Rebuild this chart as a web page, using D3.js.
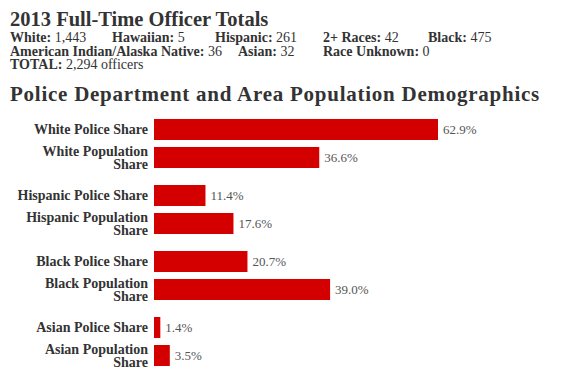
<!DOCTYPE html>
<html>
<head>
<meta charset="utf-8">
<script src="https://cdn.jsdelivr.net/npm/d3@7"></script>
<style>
  body { margin: 0; background: #fff; }
  svg { font-family: Georgia, "Liberation Serif", serif; }
</style>
</head>
<body>
<svg id="chart"></svg>
<script>
// officer totals
const groupNames = ["White", "Hawaiian", "Hispanic", "2+ Races", "Black",
  "American Indian/Alaska Native", "Asian", "Race Unknown"];
const groupCounts = ["1,443", "5", "261", "42", "475", "36", "32", "0"];
const totalOfficers = "2,294";

// share bars
const categories = [
  "White Police Share", "White Population Share",
  "Hispanic Police Share", "Hispanic Population Share",
  "Black Police Share", "Black Population Share",
  "Asian Police Share", "Asian Population Share"
];
const shares = [62.9, 36.6, 11.4, 17.6, 20.7, 39.0, 1.4, 3.5];

const width = 575, height = 376;
const ink = "#333";

const svg = d3.select("#chart").attr("width", width).attr("height", height);

svg.append("text")
  .attr("x", 10).attr("y", 26)
  .attr("font-size", 20.5).attr("font-weight", "bold").attr("fill", ink)
  .text("2013 Full-Time Officer Totals");

// legend-ish rows of counts
const slots = [
  [10, 42], [112, 42], [215, 42], [323, 42], [428, 42],
  [10, 56], [238, 56], [323, 56]
];
groupNames.forEach((name, i) => {
  const t = svg.append("text")
    .attr("x", slots[i][0]).attr("y", slots[i][1])
    .attr("font-size", 14).attr("fill", ink);
  t.append("tspan").attr("font-weight", "bold").text(name + ": ");
  t.append("tspan").text(groupCounts[i]);
});
const tot = svg.append("text").attr("x", 10).attr("y", 69)
  .attr("font-size", 14).attr("fill", ink);
tot.append("tspan").attr("font-weight", "bold").text("TOTAL: ");
tot.append("tspan").text(totalOfficers + " officers");

svg.append("text")
  .attr("x", 10).attr("y", 101)
  .attr("font-size", 21).attr("font-weight", "bold").attr("fill", ink)
  .attr("letter-spacing", 0.75)
  .text("Police Department and Area Population Demographics");

// bars
const x = d3.scaleLinear().domain([0, d3.max(shares)]).range([154, 438]);

// pairs sit close, groups get an extra gap
const rowTop = i => 119 + i * 28 + Math.floor(i / 2) * 10;
const barH = 21;

const rows = svg.append("g").selectAll("g")
  .data(categories.map((c, i) => ({ c, v: shares[i], i })))
  .join("g")
  .attr("transform", d => `translate(0,${rowTop(d.i)})`);

rows.append("rect")
  .attr("x", x(0))
  .attr("width", d => x(d.v) - x(0))
  .attr("height", barH)
  .attr("fill", "#d40000");

rows.append("text")
  .attr("x", d => x(d.v) + 5)
  .attr("y", barH / 2 + 4)
  .attr("font-size", 13).attr("fill", "#555")
  .text(d => d.v.toFixed(1) + "%");

rows.each(function(d) {
  const g = d3.select(this);
  const lines = d.c.includes("Population")
    ? [d.c.replace(" Share", ""), "Share"]
    : [d.c];
  const t = g.append("text")
    .attr("text-anchor", "end")
    .attr("font-size", 14).attr("font-weight", "bold").attr("fill", ink);
  const y0 = barH / 2 + 4.5 - (lines.length - 1) * 6.5;
  lines.forEach((l, k) => {
    t.append("tspan").attr("x", 148).attr("y", y0 + k * 13).text(l);
  });
});
</script>
</body>
</html>
